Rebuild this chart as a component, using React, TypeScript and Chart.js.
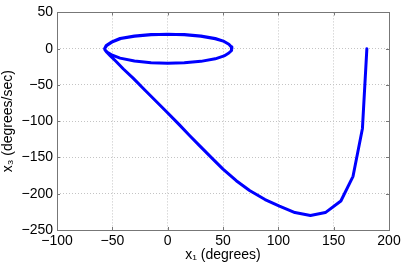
import React, { useEffect, useRef } from "react";
import { Chart, registerables } from "chart.js";

Chart.register(...registerables);

// trajectory x1 (degrees) vs x3 (degrees/sec)
const x1Deg = [
  180, 176, 167.5, 156.5, 142.5, 129, 115, 101, 88, 74, 62, 50, 40, 29, 20, 10, -1, -20, -31, -40, -47, -52, -55, -56.5,
  -57, -55.5, -51, -43, -30, -15, 0, 15, 30, 43, 51, 55.3, 57.5, 58, 57.5, 55.3, 51, 43, 30, 15, 0, -15,
  -30, -43, -50, -54.5, -56.5, -57, -55, -50.5, -42.5, -30, -15, 0, 15, 30, 43, 51, 55.3, 57.5, 58,
];
const x3DegPerSec = [
  0, -110, -176, -210, -226, -230, -226, -217, -208, -195.5, -182, -166, -151, -134, -120, -104, -87, -58, -41, -28, -17, -9.5, -5, -2,
  0, 4.5, 9, 14, 17.5, 19.5, 20, 19.5, 17.5, 14, 10, 6, 2.5, 0, -2.5, -6, -10, -14, -17.5, -19.5, -20, -19.5,
  -17, -13, -9, -5, -2, 0, 4.5, 9, 14, 17, 19.2, 19.8, 19.2, 17, 13.5, 10, 6, 2.5, 0,
];

const xTicks = [-100, -50, 0, 50, 100, 150, 200];
const yTicks = [-250, -200, -150, -100, -50, 0, 50];
const xTitle = "x\u2081 (degrees)";
const yTitle = "x\u2083 (degrees/sec)";

const FONT = "'Liberation Sans', Arial, Helvetica, sans-serif";

const boxPlugin = {
  id: "matlabBox",
  afterDatasetsDraw(chart: any) {
    const { ctx, chartArea } = chart;
    const { left, right, top, bottom } = chartArea;
    const xs = chart.scales.x;
    const ys = chart.scales.y;
    ctx.save();
    ctx.strokeStyle = "#777777";
    ctx.lineWidth = 1;
    ctx.setLineDash([]);
    ctx.strokeRect(Math.round(left) + 0.5, Math.round(top) + 0.5, Math.round(right - left), Math.round(bottom - top));
    const tl = 3;
    ctx.beginPath();
    for (const v of xTicks) {
      const px = Math.round(xs.getPixelForValue(v)) + 0.5;
      ctx.moveTo(px, bottom);
      ctx.lineTo(px, bottom - tl);
      ctx.moveTo(px, top);
      ctx.lineTo(px, top + tl);
    }
    for (const v of yTicks) {
      const py = Math.round(ys.getPixelForValue(v)) + 0.5;
      ctx.moveTo(left, py);
      ctx.lineTo(left + tl, py);
      ctx.moveTo(right, py);
      ctx.lineTo(right - tl, py);
    }
    ctx.stroke();
    ctx.restore();
  },
};

export default function App() {
  const ref = useRef<HTMLCanvasElement | null>(null);
  useEffect(() => {
    if (!ref.current) return;
    const data = x1Deg.map((x, i) => ({ x, y: x3DegPerSec[i] }));
    const fmt = (v: any) => String(v).replace("-", "\u2212");
    const chart = new Chart(ref.current, {
      type: "scatter",
      data: {
        datasets: [
          {
            data,
            showLine: true,
            borderColor: "#0000ff",
            backgroundColor: "#0000ff",
            borderWidth: 3,
            pointRadius: 0,
            tension: 0,
            borderJoinStyle: "round",
            borderCapStyle: "round",
          } as any,
        ],
      },
      options: {
        animation: false,
        responsive: false,
        layout: { padding: { top: 9, right: 27, left: 0, bottom: 0 } },
        plugins: { legend: { display: false }, tooltip: { enabled: false } },
        scales: {
          x: {
            type: "linear",
            min: -100,
            max: 200,
            afterBuildTicks: (s: any) => {
              s.ticks = xTicks.map((v) => ({ value: v }));
            },
            afterFit: (s: any) => {
              s.height = 39;
            },
            ticks: { callback: fmt, font: { family: FONT, size: 14 }, color: "#000", padding: 3, maxRotation: 0 },
            grid: { color: "#c4c4c4", drawTicks: false } as any,
            border: { display: false, dash: [1, 2] },
            title: { display: true, text: xTitle, font: { family: FONT, size: 14 }, color: "#000", padding: { top: 1, bottom: 5 } },
          },
          y: {
            type: "linear",
            min: -250,
            max: 50,
            afterBuildTicks: (s: any) => {
              s.ticks = yTicks.map((v) => ({ value: v }));
            },
            afterFit: (s: any) => {
              s.width = 57;
            },
            ticks: { callback: fmt, font: { family: FONT, size: 14 }, color: "#000", padding: 4 },
            grid: { color: "#c4c4c4", drawTicks: false } as any,
            border: { display: false, dash: [1, 2] },
            title: { display: true, text: yTitle, font: { family: FONT, size: 14 }, color: "#000", padding: { top: 0, bottom: 1 } },
          },
        },
      },
      plugins: [boxPlugin],
    });
    return () => chart.destroy();
  }, []);
  return (
    <div style={{ position: "absolute", left: 0, top: 0, width: 416, height: 269, background: "#fff" }}>
      <canvas ref={ref} width={416} height={269} style={{ width: 416, height: 269 }} />
    </div>
  );
}
